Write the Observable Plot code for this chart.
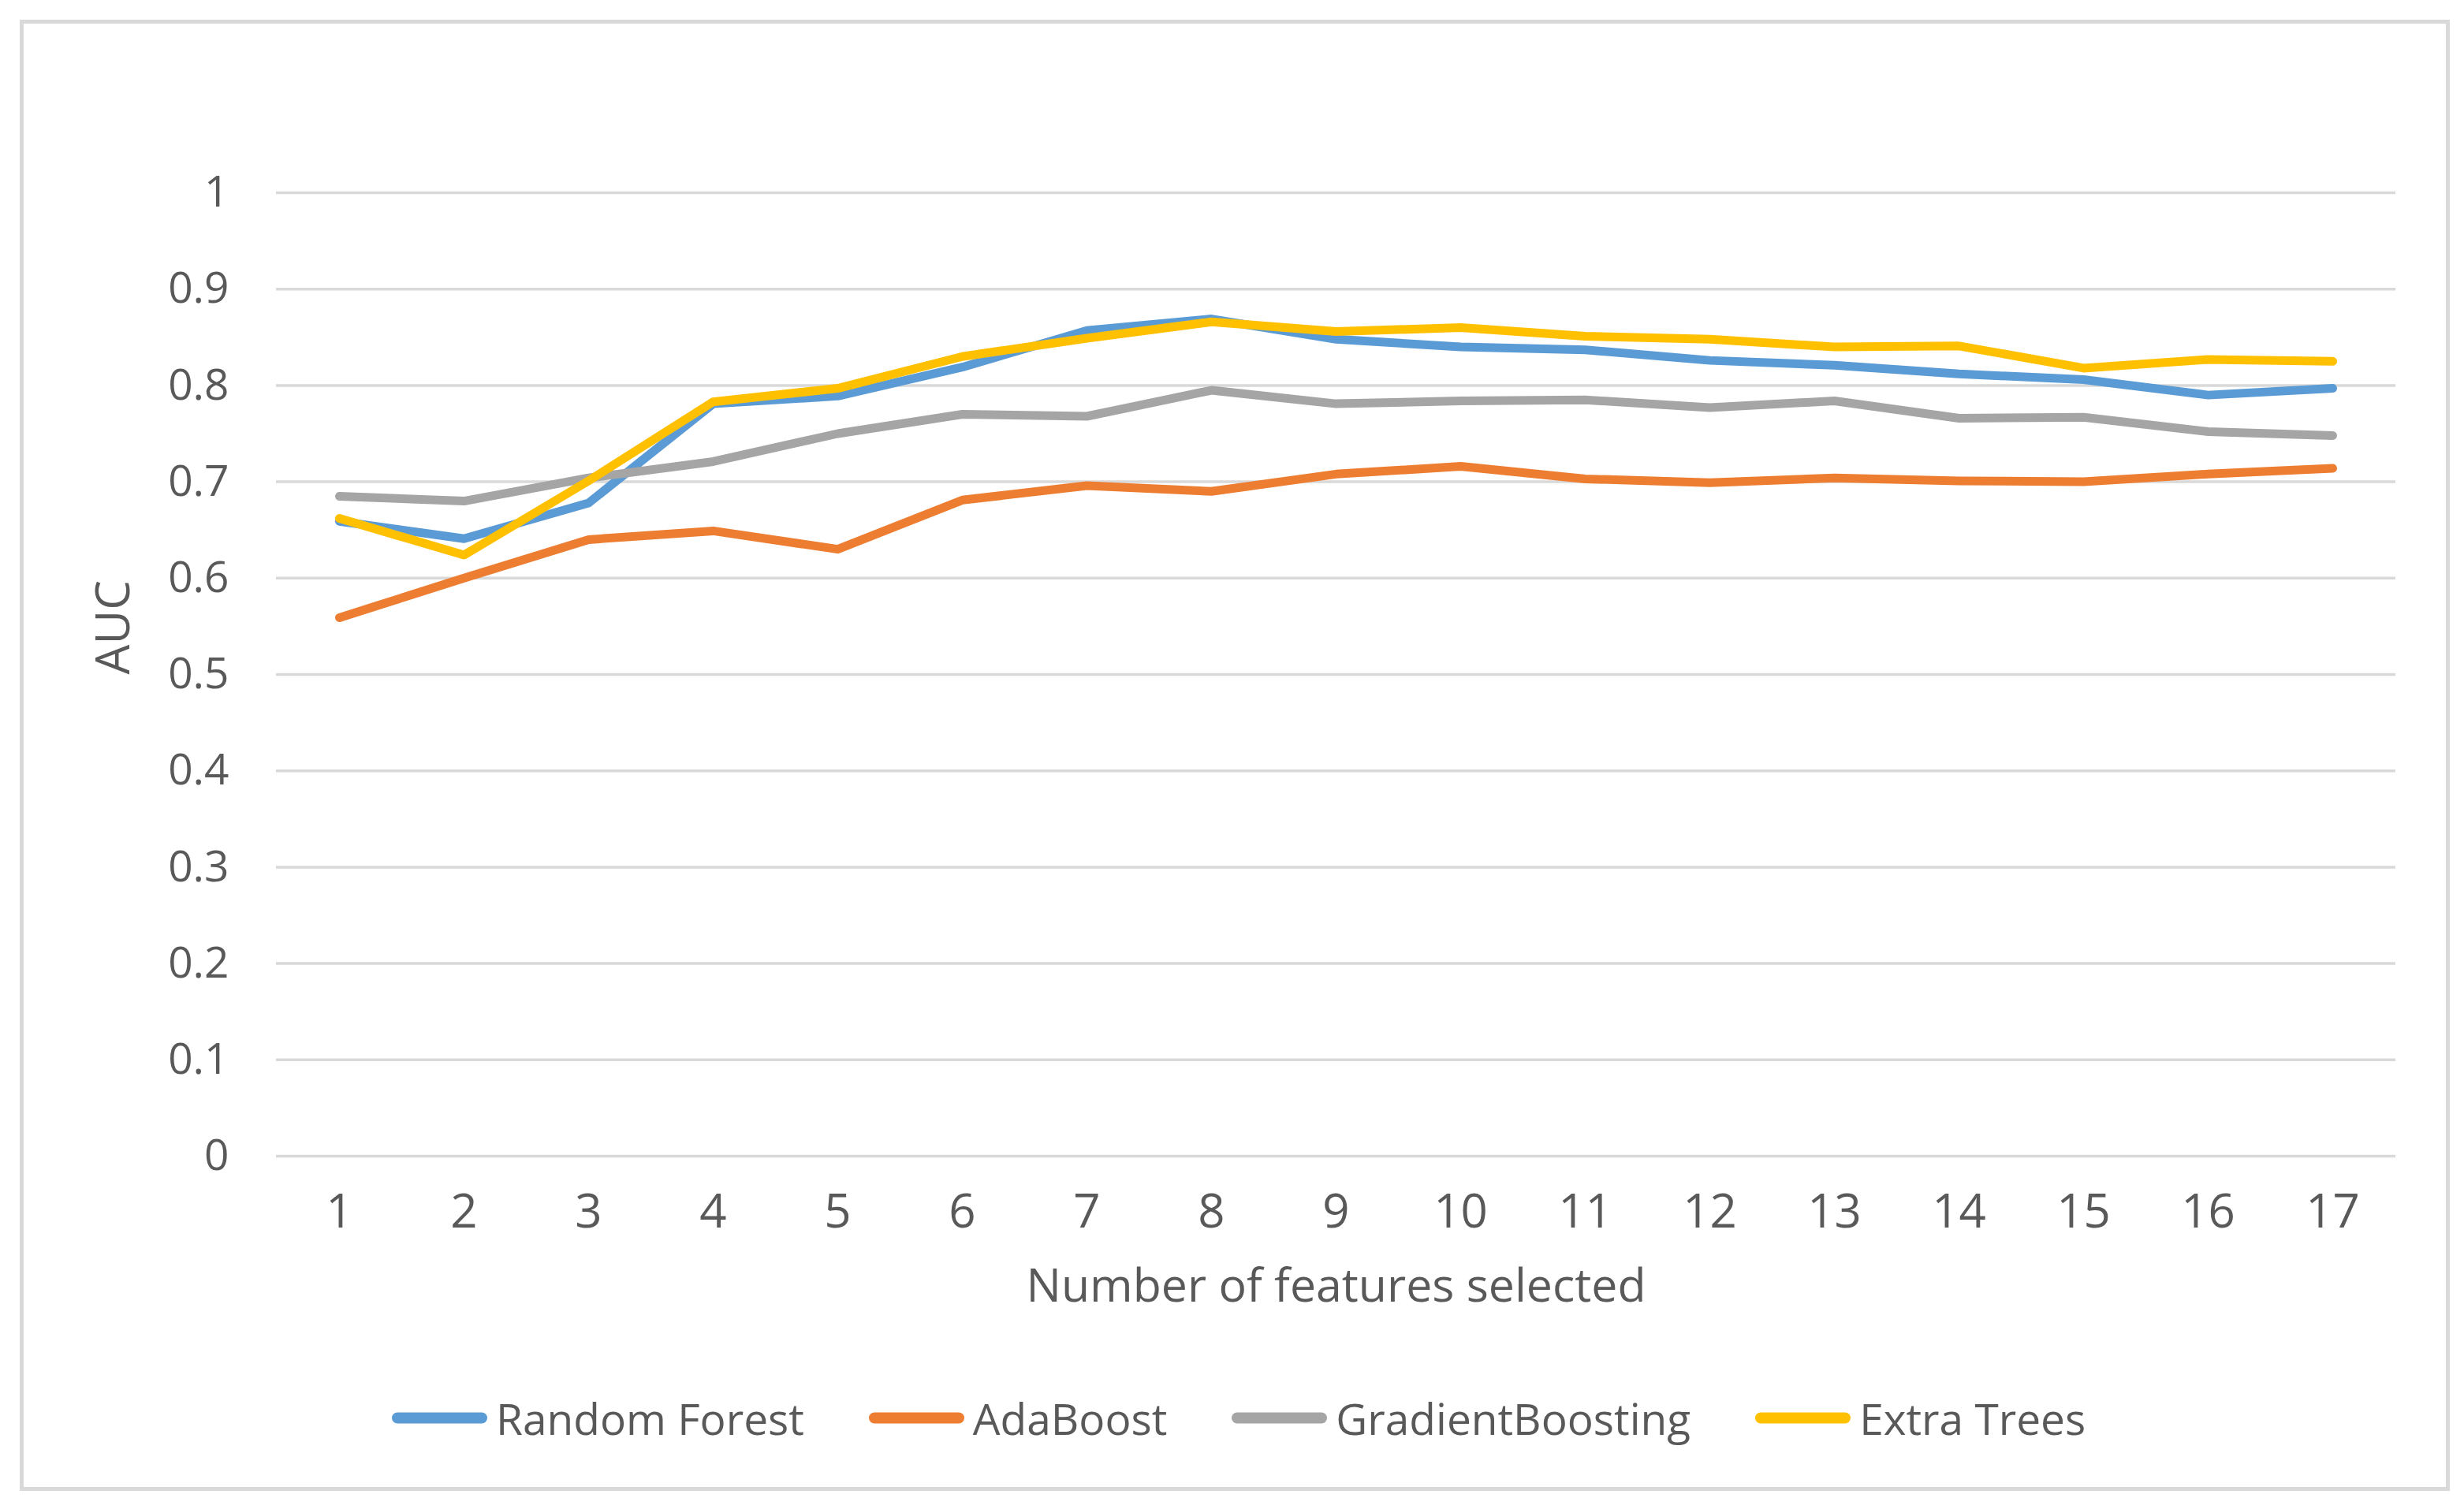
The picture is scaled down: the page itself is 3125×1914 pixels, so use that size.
<!DOCTYPE html>
<html><head><meta charset="utf-8">
<script src="https://cdn.jsdelivr.net/npm/d3@7"></script>
<script src="https://cdn.jsdelivr.net/npm/@observablehq/plot@0.6"></script>
<style>
html,body{margin:0;padding:0;background:#fff;}
#wrap{position:relative;width:3125px;height:1914px;overflow:hidden;font-family:"Open Sans",sans-serif;color:#595959;}
#frame{position:absolute;left:25px;top:25px;width:3082px;height:1866px;border:5px solid #D9D9D9;box-sizing:border-box;pointer-events:none;}
#chart svg{display:block;}
#legend{position:absolute;left:497px;top:1798px;transform:translateY(-50%);display:flex;align-items:center;gap:82px;font-size:55px;line-height:1;}
.item{display:flex;align-items:center;gap:11px;}
.swatch{width:121px;height:14px;border-radius:7px;}
</style></head><body>
<div id="wrap"><div id="frame"></div><div id="chart"></div><div id="legend"></div></div>
<script>
const features = [1,2,3,4,5,6,7,8,9,10,11,12,13,14,15,16,17];
const randomForest = [0.659,0.641,0.678,0.781,0.789,0.819,0.857,0.869,0.848,0.840,0.837,0.826,0.821,0.812,0.806,0.790,0.797];
const adaBoost = [0.559,0.600,0.640,0.649,0.630,0.681,0.696,0.690,0.708,0.716,0.703,0.699,0.704,0.701,0.700,0.708,0.714];
const gradientBoosting = [0.685,0.680,0.704,0.721,0.750,0.770,0.768,0.795,0.781,0.784,0.785,0.777,0.784,0.766,0.767,0.752,0.748];
const extraTrees = [0.662,0.624,0.701,0.783,0.797,0.830,0.849,0.866,0.856,0.860,0.851,0.848,0.840,0.841,0.818,0.827,0.825];
const seriesNames = ["Random Forest","AdaBoost","GradientBoosting","Extra Trees"];
const seriesColors = ["#5B9BD5","#ED7D31","#A5A5A5","#FFC000"];
const yTicks = [0,0.1,0.2,0.3,0.4,0.5,0.6,0.7,0.8,0.9,1];
const yTitle = "AUC";
const xTitle = "Number of features selected";

const seriesValues = [randomForest, adaBoost, gradientBoosting, extraTrees];
const lineMarks = seriesNames.map((name, si) => {
  const rows = features.map((f, i) => ({feature: f, auc: seriesValues[si][i], series: name}));
  return Plot.line(rows, {x: "feature", y: "auc", stroke: "series", strokeWidth: 11, strokeLinejoin: "round", strokeLinecap: "round"});
});

const chart = Plot.plot({
  width: 3125, height: 1720,
  marginLeft: 350, marginRight: 87, marginTop: 244, marginBottom: 254,
  style: {fontFamily: "'Open Sans', sans-serif", fontSize: "54px", color: "#595959", background: "transparent"},
  x: {type: "point", domain: features, padding: 0.47, label: null},
  y: {domain: [0, 1], label: null},
  color: {domain: seriesNames, range: seriesColors},
  marks: [
    Plot.ruleY(yTicks, {stroke: "#D9D9D9", strokeWidth: 3.5}),
    Plot.axisY({ticks: yTicks, tickSize: 0, tickPadding: 60, tickFormat: d => String(d), label: null, fontSize: 55}),
    Plot.axisX({tickSize: 0, tickPadding: 48, label: null, fontSize: 60}),
    ...lineMarks,
    Plot.text([yTitle], {text: d => d, frameAnchor: "left", dx: -206, rotate: -90, fontSize: 60, fill: "#595959"}),
    Plot.text([xTitle], {text: d => d, frameAnchor: "bottom", dy: 184, fontSize: 59, fill: "#595959"})
  ]
});
document.getElementById("chart").appendChild(chart);

const legend = document.getElementById("legend");
seriesNames.forEach((name, i) => {
  const item = document.createElement("div");
  item.className = "item";
  const sw = document.createElement("div");
  sw.className = "swatch";
  sw.style.background = seriesColors[i];
  const label = document.createElement("span");
  label.textContent = name;
  item.appendChild(sw);
  item.appendChild(label);
  legend.appendChild(item);
});
</script>
</body></html>
